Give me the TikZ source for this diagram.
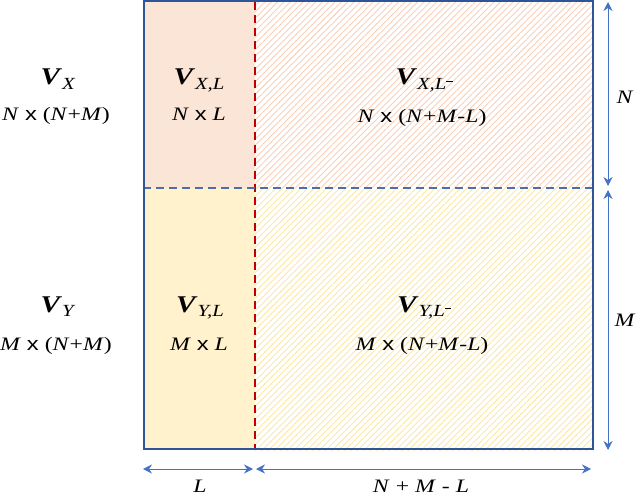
\documentclass[tikz,border=0pt]{standalone}
\usepackage{fontspec}
\setmainfont{Liberation Serif}
\setsansfont{Liberation Sans}
\usetikzlibrary{arrows.meta,patterns.meta}
\definecolor{frame}{HTML}{2E5597}
\definecolor{dimblue}{HTML}{4472C4}
\definecolor{redd}{HTML}{C00000}
\definecolor{salfill}{HTML}{FBE5D6}
\definecolor{salhatch}{HTML}{F8CFB8}
\definecolor{yelfill}{HTML}{FFF2CC}
\definecolor{yelhatch}{HTML}{FBE7A6}
\newcommand{\vv}[1]{\scalebox{1.22}[1]{\fontsize{24}{24}\selectfont\textbf{\textit{V}}\raisebox{-0.45ex}{\fontsize{17}{17}\selectfont\textit{#1}}}}
\newcommand{\lbar}{\textit{L}\raisebox{1.05ex}{\rule{5pt}{0.7pt}}}
\newcommand{\xx}{{\sffamily x}}
\newcommand{\wide}[1]{\scalebox{1.25}[1]{#1}}
\tikzset{
  lab/.style={font=\fontsize{19}{21}\selectfont, inner sep=0pt, anchor=base},
  big/.style={inner sep=0pt, anchor=base},
  dim/.style={draw=dimblue, line width=0.9pt, {Stealth[length=9pt,width=9pt,inset=3pt]}-{Stealth[length=9pt,width=9pt,inset=3pt]}},
}
\begin{document}
\begin{tikzpicture}[x=1pt,y=1pt]
\useasboundingbox (0,0) rectangle (640,496);
% fills
\fill[salfill] (143,494) rectangle (255,308);
\fill[yelfill] (143,308) rectangle (255,46);
\fill[pattern={Lines[angle=45,distance=4.5pt,line width=0.9pt]},pattern color=salhatch] (255,494) rectangle (592,308);
\fill[pattern={Lines[angle=45,distance=4.5pt,line width=0.9pt]},pattern color=yelhatch] (255,308) rectangle (592,46);
% dividers
\coordinate (ht) at (255,494); \coordinate (hb) at (255,46);
\coordinate (vl) at (143,308); \coordinate (vr) at (592,308);
\draw[redd, line width=1.5pt, dash pattern=on 8pt off 5pt] (ht) -- (hb);
\draw[frame!85!white, line width=1.5pt, dash pattern=on 8pt off 5pt] (vl) -- (vr);
% frame
\node[draw=frame, line width=2.2pt, minimum width=449pt, minimum height=448pt, inner sep=0pt, anchor=south west] (box) at (143,46) {};
% dimension arrows
\coordinate (n1) at (608,494); \coordinate (n2) at (608,310);
\coordinate (m1) at (608,306); \coordinate (m2) at (608,46);
\coordinate (l1) at (143,27); \coordinate (l2) at (253,27);
\coordinate (r1) at (256,27); \coordinate (r2) at (591,27);
\draw[dim] (n1) -- (n2);
\draw[dim] (m1) -- (m2);
\draw[dim] (l1) -- (l2);
\draw[dim] (r1) -- (r2);
\node[lab] (nlab) at (625,392) {\wide{\textit{N}}};
\node[lab] (mlab) at (625,170) {\wide{\textit{M}}};
\node[lab] (llab) at (200,4) {\wide{\textit{L}}};
\node[lab] (rlab) at (421,4) {\wide{\textit{N} + \textit{M} - \textit{L}}};
% left labels
\node[big] (vx) at (58,411) {\vv{X}};
\node[lab] (vxs) at (56,375) {\wide{\textit{N} \xx{} (\textit{N}+\textit{M})}};
\node[big] (vy) at (58,184) {\vv{Y}};
\node[lab] (vys) at (56,146) {\wide{\textit{M} \xx{} (\textit{N}+\textit{M})}};
% cells
\node[big] (vxl) at (199,411) {\vv{X,L}};
\node[lab] (vxls) at (199,375) {\wide{\textit{N} \xx{} \textit{L}}};
\node[big] (vyl) at (200,184) {\vv{Y,L}};
\node[lab] (vyls) at (199,146) {\wide{\textit{M} \xx{} \textit{L}}};
\node[big] (vxr) at (424,411) {\vv{X,\lbar}};
\node[lab] (vxrs) at (422,373) {\wide{\textit{N} \xx{} (\textit{N}+\textit{M}-\textit{L})}};
\node[big] (vyr) at (424,184) {\vv{Y,\lbar}};
\node[lab] (vyrs) at (422,146) {\wide{\textit{M} \xx{} (\textit{N}+\textit{M}-\textit{L})}};
\end{tikzpicture}
\end{document}
